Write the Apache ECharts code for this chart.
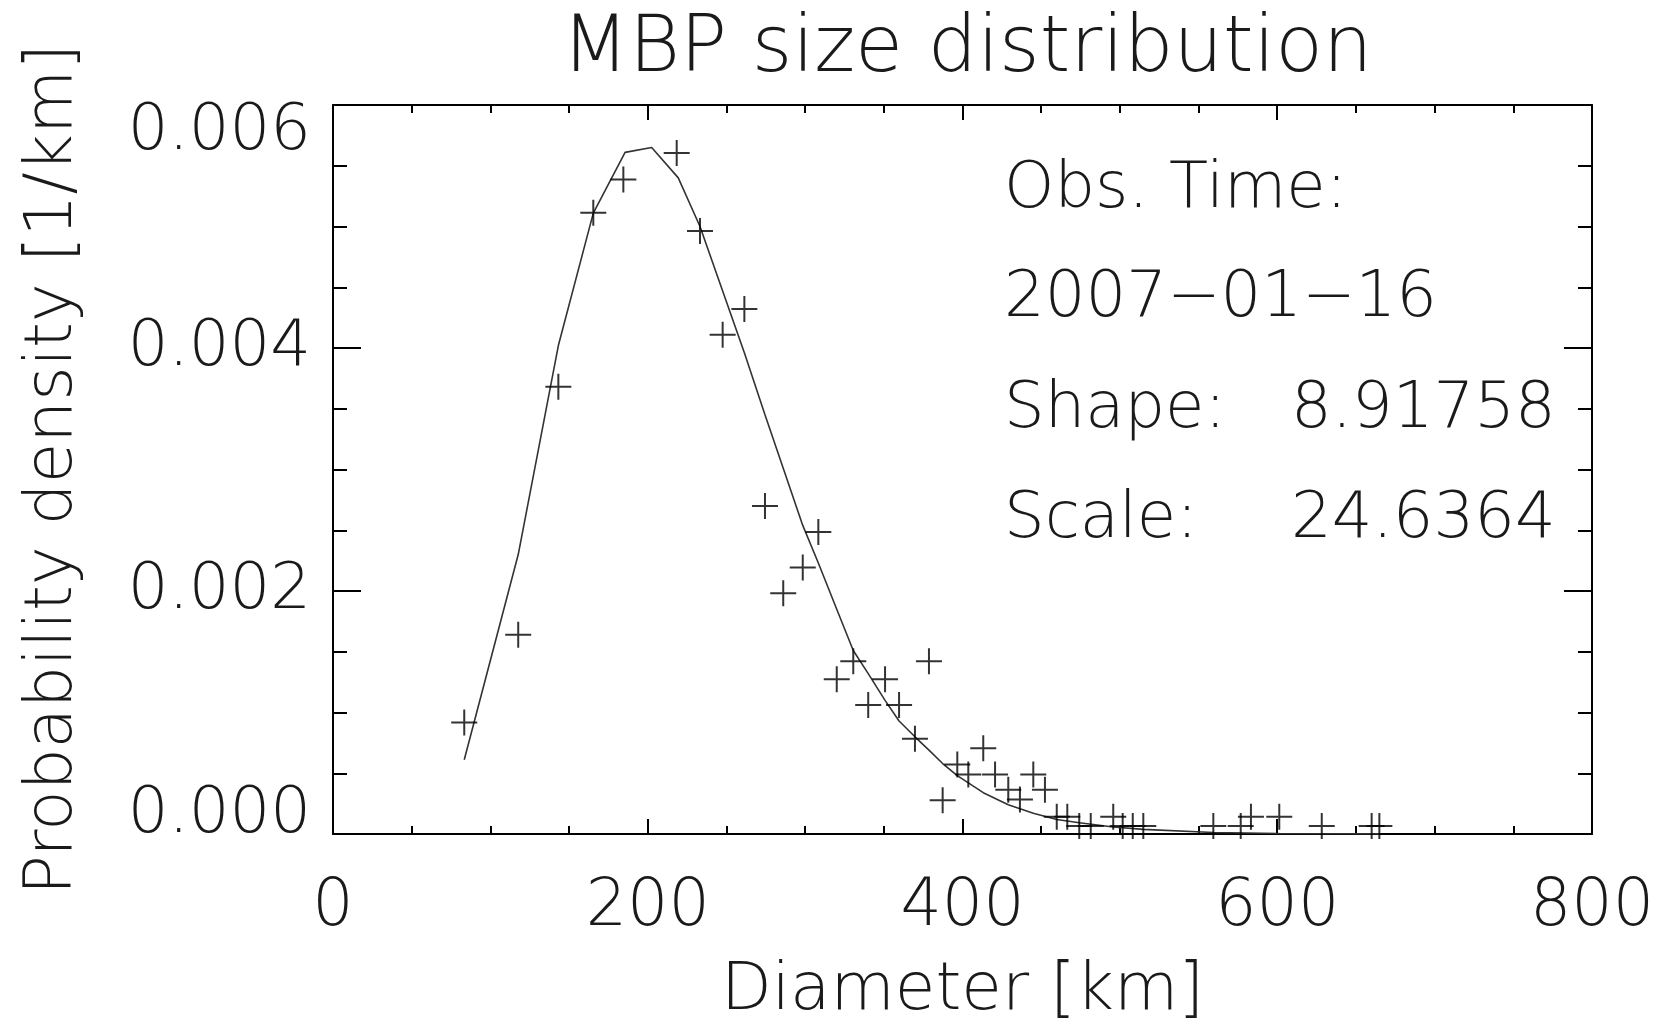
<!DOCTYPE html>
<html>
<head>
<meta charset="utf-8">
<script src="https://cdn.jsdelivr.net/npm/echarts@6/dist/echarts.min.js"></script>
<style>
html,body{margin:0;padding:0;background:#fff;}
#chart{width:1657px;height:1030px;}
</style>
</head>
<body>
<div id="chart"></div>
<script>
// Observed histogram points (diameter in km, probability density in 1/km)
const diameterKm = [83.4, 117.7, 143.2, 165.4, 184.5, 218.4, 233.2, 247.6, 261.4, 274.5, 286.1, 298.5, 308.4, 320.1, 330.6, 340.1, 350.8, 359.7, 369.8, 378.7, 387.4, 396.7, 403.7, 413.2, 420.7, 429.1, 436.5, 445.0, 452.4, 459.9, 466.6, 474.2, 481.5, 495.8, 501.8, 508.2, 514.9, 559.4, 576.8, 583.3, 601.3, 628.3, 660.0, 664.9];
const density = [0.000917, 0.001639, 0.003681, 0.005114, 0.005386, 0.005605, 0.004963, 0.004109, 0.004322, 0.002699, 0.001981, 0.002194, 0.002486, 0.001274, 0.001422, 0.001062, 0.001274, 0.001062, 0.000783, 0.001422, 0.000278, 0.000571, 0.000489, 0.000706, 0.000489, 0.000364, 0.000284, 0.000489, 0.000364, 0.000142, 0.000142, 0.0000655, 0.0000655, 0.000142, 0.0000655, 0.0000655, 0.0000655, 0.0000655, 0.0000655, 0.000142, 0.000142, 0.0000655, 0.0000655, 0.0000655];

// Fitted curve
const fitDiameterKm = [83.4, 117.7, 143.2, 165.4, 185.6, 202.5, 219.4, 233.2, 247.6, 261.4, 274.5, 286.1, 298.5, 308.4, 320.1, 330.6, 340.1, 350.8, 359.7, 369.8, 378.7, 387.4, 396.7, 413.2, 429.1, 445.0, 459.9, 474.2, 495.8, 514.9, 559.4, 601.3, 664.9];
const fitDensity = [0.000611, 0.00230, 0.00402, 0.00511, 0.00561, 0.00565, 0.00540, 0.00500, 0.00447, 0.00396, 0.00345, 0.00301, 0.00254, 0.00223, 0.00185, 0.00151, 0.00132, 0.00110, 0.00093, 0.00080, 0.00069, 0.00058, 0.00048, 0.00034, 0.00024, 0.00017, 0.00012, 0.000093, 0.000057, 0.000038, 0.000012, 0.000004, 0.000001];

const titleText = 'MBP size distribution';
const xName = 'Diameter [km]';
const yName = 'Probability density [1/km]';
const infoLabels = ['Obs. Time:', '2007\u221201\u221216', 'Shape:', 'Scale:'];
const infoValues = ['', '', '8.91758', '24.6364'];

const FONT = '"DejaVu Sans", Roboto, sans-serif';
const FW = 200;
const TXT = '#1a1a1a';

const chart = echarts.init(document.getElementById('chart'), null, {renderer: 'canvas'});

const axisCommon = {
  type: 'value',
  axisLine: {show: true, onZero: false, lineStyle: {color: '#000', width: 2}},
  splitLine: {show: false},
  minorSplitLine: {show: false}
};

const infoY = [190, 299, 410, 520];
const graphics = [];
infoLabels.forEach((t, i) => {
  graphics.push({type: 'text', x: 1004, y: infoY[i], style: {text: t, font: FW + ' 64px ' + FONT, fill: TXT, textVerticalAlign: 'middle', textAlign: 'left'}});
  if (infoValues[i]) {
    graphics.push({type: 'text', x: 1291, y: infoY[i], style: {text: infoValues[i], font: FW + ' 64px ' + FONT, fill: TXT, textVerticalAlign: 'middle', textAlign: 'left'}});
  }
});

chart.setOption({
  backgroundColor: '#fff',
  animation: false,
  title: {
    text: titleText,
    left: 962,
    top: 7,
    textAlign: 'center',
    textStyle: {fontFamily: FONT, fontWeight: FW, fontSize: 78, color: TXT}
  },
  grid: {left: 333, right: 65, top: 105, bottom: 192, containLabel: false},
  xAxis: [
    Object.assign({}, axisCommon, {
      position: 'bottom', min: 0, max: 800, interval: 200,
      axisTick: {show: true, inside: true, length: 15, lineStyle: {color: '#000', width: 2}},
      minorTick: {show: true, splitNumber: 4, length: 8, lineStyle: {color: '#000', width: 2}},
      axisLabel: {show: true, margin: 42, fontFamily: FONT, fontWeight: FW, fontSize: 65, color: TXT},
      name: xName, nameLocation: 'middle', nameGap: 125,
      nameTextStyle: {fontFamily: FONT, fontWeight: FW, fontSize: 66, color: TXT}
    }),
    Object.assign({}, axisCommon, {
      position: 'top', min: 0, max: 800, interval: 200,
      axisTick: {show: true, inside: true, length: 15, lineStyle: {color: '#000', width: 2}},
      minorTick: {show: true, splitNumber: 4, length: 8, lineStyle: {color: '#000', width: 2}},
      axisLabel: {show: false}
    })
  ],
  yAxis: [
    Object.assign({}, axisCommon, {
      position: 'left', min: 0, max: 0.006, interval: 0.002,
      axisTick: {show: true, inside: true, length: 28, lineStyle: {color: '#000', width: 2}},
      minorTick: {show: true, splitNumber: 4, length: 14, lineStyle: {color: '#000', width: 2}},
      axisLabel: {
        show: true, margin: 22, fontFamily: FONT, fontWeight: FW, fontSize: 64, color: TXT,
        formatter: function (v) {
          const s = v.toFixed(3);
          if (v <= 0) return '{lo|' + s + '}';
          if (v >= 0.006 - 1e-9) return '{hi|' + s + '}';
          return '{mid|' + s + '}';
        },
        rich: {
          lo: {fontFamily: FONT, fontWeight: FW, fontSize: 64, color: TXT, padding: [0, 0, 38, 0]},
          hi: {fontFamily: FONT, fontWeight: FW, fontSize: 64, color: TXT, padding: [54, 0, 0, 0]},
          mid: {fontFamily: FONT, fontWeight: FW, fontSize: 64, color: TXT}
        }
      },
      name: yName, nameLocation: 'middle', nameGap: 246, nameRotate: 90,
      nameTextStyle: {fontFamily: FONT, fontWeight: FW, fontSize: 66, color: TXT}
    }),
    Object.assign({}, axisCommon, {
      position: 'right', min: 0, max: 0.006, interval: 0.002,
      axisTick: {show: true, inside: true, length: 28, lineStyle: {color: '#000', width: 2}},
      minorTick: {show: true, splitNumber: 4, length: 14, lineStyle: {color: '#000', width: 2}},
      axisLabel: {show: false}
    })
  ],
  graphic: graphics,
  series: [
    {
      type: 'line',
      xAxisIndex: 0, yAxisIndex: 0,
      data: fitDiameterKm.map((x, i) => [x, fitDensity[i]]),
      showSymbol: false,
      symbol: 'none',
      smooth: false,
      lineStyle: {color: '#333', width: 1.6},
      clip: true,
      z: 2
    },
    {
      type: 'scatter',
      xAxisIndex: 0, yAxisIndex: 0,
      data: diameterKm.map((x, i) => [x, density[i]]),
      symbol: 'path://M0,13L26,13M13,0L13,26',
      symbolSize: 26,
      itemStyle: {color: 'transparent', borderColor: '#000', borderWidth: 2},
      clip: true,
      z: 3
    }
  ]
});
</script>
</body>
</html>
